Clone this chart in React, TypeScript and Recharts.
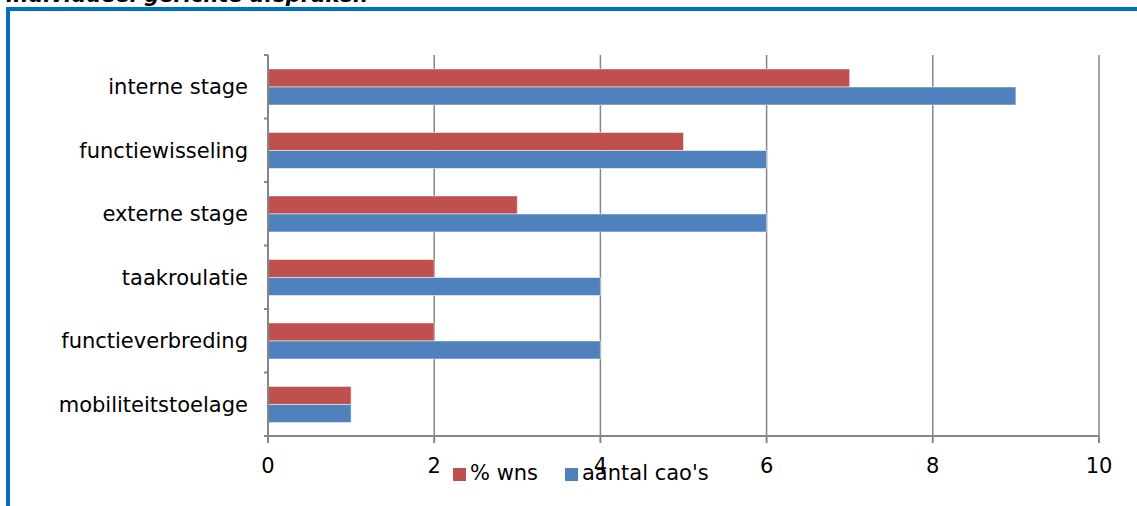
import React from 'react';
import { BarChart, Bar, XAxis, YAxis, CartesianGrid } from 'recharts';

const categories = ['interne stage', 'functiewisseling', 'externe stage', 'taakroulatie', 'functieverbreding', 'mobiliteitstoelage'];
const wnsValues = [7, 5, 3, 2, 2, 1];
const caoValues = [9, 6, 6, 4, 4, 1];
const xTicks = [0, 2, 4, 6, 8, 10];
const seriesNames = ['% wns', "aantal cao's"];
const seriesColors = ['#C0504D', '#4F81BD'];
const titleText = 'individueel gerichte afspraken';

const data = categories.map((name, i) => ({ name, wns: wnsValues[i], cao: caoValues[i] }));

const FONT = '"DejaVu Sans", Verdana, sans-serif';
const W = 1137;
const H = 506;
const M = { top: 55, right: 38, bottom: 0, left: 0 };
const Y_W = 268;
const X_H = 70;
const PLOT_H = H - M.top - X_H;
const BAND = PLOT_H / categories.length;
const GREY = '#868686';

const CatTick = (props: any) => {
  const { x, y, payload, index } = props;
  const axisX = Y_W;
  const last = index === categories.length - 1;
  return (
    <g>
      <line x1={axisX - 4} x2={axisX} y1={y - BAND / 2} y2={y - BAND / 2} stroke={GREY} strokeWidth={2} />
      {last && <line x1={axisX - 4} x2={axisX} y1={y + BAND / 2} y2={y + BAND / 2} stroke={GREY} strokeWidth={2} />}
      <text x={axisX - 20} y={y} dy="0.355em" textAnchor="end" fill="#000" fontSize={21} fontFamily={FONT}>
        {payload.value}
      </text>
    </g>
  );
};

export default function App() {
  return (
    <div style={{ position: 'fixed', left: 0, top: 0, width: W, height: H, overflow: 'hidden', background: '#fff' }}>
      <div
        style={{
          position: 'absolute', left: 6, top: -15, fontFamily: FONT, fontSize: 21, lineHeight: '21px',
          fontWeight: 'bold', fontStyle: 'italic', color: '#000', whiteSpace: 'nowrap',
        }}
      >
        {titleText}
      </div>
      <div
        style={{
          position: 'absolute', left: 6, top: 7, width: 1300, height: 700,
          border: '4px solid #0070C0', boxSizing: 'border-box',
        }}
      />
      <div style={{ position: 'absolute', left: 0, top: 0 }}>
        <BarChart
          width={W}
          height={H}
          data={data}
          layout="vertical"
          margin={M}
          barCategoryGap="22%"
          barGap={0}
        >
          <CartesianGrid horizontal={false} vertical stroke={GREY} strokeWidth={1.5} />
          <XAxis
            type="number"
            domain={[0, 10]}
            ticks={xTicks}
            height={X_H}
            tickSize={7}
            tickMargin={15}
            axisLine={{ stroke: GREY, strokeWidth: 2 }}
            tickLine={{ stroke: GREY, strokeWidth: 2 }}
            tick={{ fill: '#000', fontSize: 21, fontFamily: FONT }}
            interval={0}
          />
          <YAxis
            type="category"
            dataKey="name"
            width={Y_W}
            axisLine={{ stroke: GREY, strokeWidth: 2 }}
            tickLine={false}
            tick={<CatTick />}
            interval={0}
          />
          <Bar dataKey="wns" name={seriesNames[0]} fill={seriesColors[0]} stroke="#ffffff" strokeOpacity={0.5} strokeWidth={1} isAnimationActive={false} />
          <Bar dataKey="cao" name={seriesNames[1]} fill={seriesColors[1]} stroke="#ffffff" strokeOpacity={0.5} strokeWidth={1} isAnimationActive={false} />
        </BarChart>
      </div>
      <div style={{ position: 'absolute', left: 453, top: 468, width: 13, height: 13, background: seriesColors[0] }} />
      <div style={{ position: 'absolute', left: 470, top: 463, fontFamily: FONT, fontSize: 21, lineHeight: '21px', color: '#000', whiteSpace: 'nowrap' }}>
        {seriesNames[0]}
      </div>
      <div style={{ position: 'absolute', left: 565, top: 468, width: 13, height: 13, background: seriesColors[1] }} />
      <div style={{ position: 'absolute', left: 582, top: 463, fontFamily: FONT, fontSize: 21, lineHeight: '21px', color: '#000', whiteSpace: 'nowrap' }}>
        {seriesNames[1]}
      </div>
    </div>
  );
}
